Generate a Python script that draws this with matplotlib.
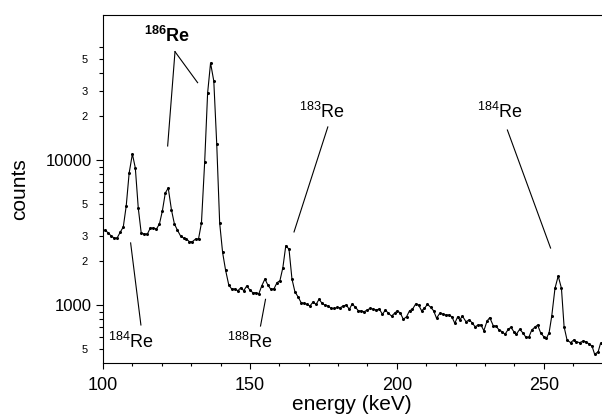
import numpy as np
import matplotlib.pyplot as plt

plt.rcParams['font.family'] = 'Liberation Sans'
plt.rcParams['mathtext.fontset'] = 'custom'
plt.rcParams['mathtext.rm'] = 'Liberation Sans'
plt.rcParams['mathtext.bf'] = 'Liberation Sans:bold'
plt.rcParams['mathtext.it'] = 'Liberation Sans:italic'

# gamma spectrum (energy in keV, counts per channel)
energy = [100.7, 101.8, 102.8, 103.8, 104.8, 105.9, 106.9, 107.9, 108.9, 110.0,
          111.0, 112.0, 113.0, 114.0, 115.1, 116.1, 117.1, 118.2, 119.2, 120.2,
          121.2, 122.2, 123.3, 124.3, 125.3, 126.4, 127.4, 128.4, 129.4, 130.4,
          131.5, 132.5, 133.5, 134.6, 135.6, 136.6, 137.7, 138.7, 139.7, 140.7,
          141.7, 142.8, 143.8, 144.8, 145.9, 146.9, 147.9, 148.9, 150.0, 151.0,
          152.0, 153.0, 154.0, 155.1, 156.1, 157.1, 158.2, 159.2, 160.2, 161.2,
          162.2, 163.3, 164.3, 165.3, 166.4, 167.4, 168.4, 169.4, 170.4, 171.5,
          172.5, 173.5, 174.6, 175.6, 176.6, 177.7, 178.7, 179.7, 180.7, 181.7,
          182.8, 183.8, 184.8, 185.9, 186.9, 187.9, 188.9, 189.9, 191.0, 192.0,
          193.0, 194.0, 195.1, 196.1, 197.1, 198.2, 199.2, 200.2, 201.2, 202.2,
          203.3, 204.3, 205.3, 206.4, 207.4, 208.4, 209.4, 210.4, 211.5, 212.5,
          213.5, 214.6, 215.6, 216.6, 217.7, 218.7, 219.7, 220.7, 221.4,
          222.3, 223.5, 224.6, 225.6, 226.6, 227.7, 228.6, 229.6, 230.7, 231.6,
          232.8, 233.7, 234.8, 235.8, 236.8, 237.9, 238.8, 239.8, 240.7, 241.8,
          243.0, 243.9, 244.9, 245.9, 246.9, 247.9, 248.9, 250.0, 250.9, 251.8,
          252.7, 253.8, 254.9, 256.0, 256.9, 257.9, 259.1, 260.2, 261.1, 262.2,
          263.4, 264.3, 265.4, 266.4, 267.3, 268.5, 269.3]

counts = [3290, 3138, 2991, 2898, 2898, 3187, 3451, 4818, 8135, 11000,
          8806, 4667, 3138, 3088, 3088, 3396, 3396, 3343, 3620, 4449,
          5922, 6411, 4520, 3620, 3290, 2991, 2898, 2852, 2733, 2733,
          2852, 2852, 3678, 9687, 28980, 46670, 35060, 12890, 3678, 2302,
          1744, 1373, 1289, 1289, 1255, 1316, 1255, 1352, 1269, 1215,
          1215, 1191, 1352, 1511, 1373, 1283, 1295, 1425, 1471, 1808,
          2564, 2422, 1511, 1235, 1136, 1040, 1027, 1011, 984, 1049,
          1008, 1095, 1024, 995, 984, 946, 946, 961, 958, 984,
          1000, 934, 1016, 964, 913, 909, 899, 924, 949, 934,
          924, 938, 863, 924, 877, 839, 877, 913, 877, 797,
          830, 913, 934, 1016, 1000, 913, 949, 1011, 964, 913,
          810, 877, 867, 853, 853, 830, 748, 830, 788,
          839, 767, 788, 755, 708, 728, 728, 665, 776, 818,
          720, 716, 672, 655, 628, 680, 702, 655, 631, 680,
          638, 599, 599, 672, 702, 728, 644, 604, 589, 644,
          839, 1303, 1585, 1303, 708, 574, 550, 574, 558, 550,
          564, 558, 538, 521, 457, 476, 544]

y_major = [1000, 10000]
y_major_labels = ['1000', '10000']
y_minor = [500, 600, 700, 800, 900,
           2000, 3000, 4000, 5000, 6000, 7000, 8000, 9000,
           20000, 30000, 40000, 50000, 60000]
y_minor_labels = ['5', '', '', '', '',
                  '2', '3', '', '5', '', '', '', '',
                  '2', '3', '', '5', '']

fig = plt.figure(figsize=(6.02, 4.17), dpi=100)
ax = fig.add_axes([103/602, 1 - 363/417, 499/602, 348/417])

ax.plot(energy, counts, color='black', lw=0.8, marker='o', ms=1.2)

ax.set_yscale('log')
ax.set_xlim(100, 269.8)
ax.set_ylim(398, 100000)

ax.set_xticks([100, 150, 200, 250])
ax.set_xticks(np.arange(110, 270, 10), minor=True)
ax.set_yticks(y_major)
ax.set_yticklabels(y_major_labels)
ax.set_yticks(y_minor, minor=True)
ax.set_yticklabels(y_minor_labels, minor=True)

ax.tick_params(axis='x', which='major', direction='out', length=4, width=0.8,
               labelsize=13, pad=6)
ax.tick_params(axis='x', which='minor', direction='out', length=2, width=0.8)
ax.tick_params(axis='y', which='major', direction='out', length=5, width=0.8,
               labelsize=12, pad=3)
ax.tick_params(axis='y', which='minor', direction='out', length=3, width=0.8,
               labelsize=8, pad=8)
ax.spines['right'].set_visible(False)

ax.set_xlabel('energy (keV)', fontsize=15)
ax.set_ylabel('counts', fontsize=15)
ax.xaxis.set_label_coords(0.498, -0.092)
ax.yaxis.set_label_coords(-0.148, 0.5)

# leader lines from the labels to the peaks
leaders = [
    ([124.5, 132.2], [55850, 34130]),
    ([124.5, 122.0], [55850, 12490]),
    ([176.5, 165.0], [16900, 3190]),
    ([237.6, 252.3], [16100, 2470]),
    ([109.4, 112.9], [2680, 728]),
    ([155.3, 153.6], [1094, 716]),
]
for xs, ys in leaders:
    ax.plot(xs, ys, color='black', lw=0.8)

ax.text(113.9, 65160, r'$^{\mathbf{186}}$Re', fontsize=13, fontweight='bold',
        ha='left', va='baseline')
ax.text(166.7, 19490, r'$^{183}$Re', fontsize=13, ha='left', va='baseline')
ax.text(227.2, 19490, r'$^{184}$Re', fontsize=13, ha='left', va='baseline')
ax.text(101.7, 505, r'$^{184}$Re', fontsize=13, ha='left', va='baseline')
ax.text(142.2, 505, r'$^{188}$Re', fontsize=13, ha='left', va='baseline')

fig.savefig('out.png', dpi=100)
